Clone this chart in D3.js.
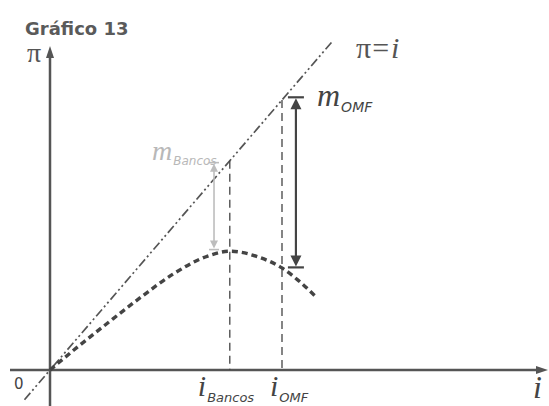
<!DOCTYPE html>
<html>
<head>
<meta charset="utf-8">
<script src="https://cdn.jsdelivr.net/npm/d3@7"></script>
<style>
  body { margin: 0; background: #fff; }
  svg { display: block; }
</style>
</head>
<body>
<div id="chart"></div>
<script>
// rates on the horizontal axis (i) and the profit line pi = i
var rateNames = ["Bancos", "OMF"];
var rateValues = [7.75, 10];
var diagonalRange = [-1.1, 12.2];
// profit curve
var curveI  = [0, 1, 2.5, 4, 5.3, 6.8, 7.75, 9, 10, 10.7, 11.5];
var curvePi = [0, 0.72, 1.75, 2.75, 3.55, 4.22, 4.4, 4.18, 3.78, 3.32, 2.68];
// margin arrows: [i, from pi, to pi]
var marginBancos = [7.07, 7.68, 4.46];
var marginOMF = [10.6, 10.1, 3.8];

var width = 549, height = 406;

var x = d3.scaleLinear().domain([0, 10]).range([50, 282]);
var y = d3.scaleLinear().domain([0, 10]).range([370, 100]);

var svg = d3.select("#chart").append("svg")
    .attr("width", width)
    .attr("height", height);

var axisColor = "#555";

// title
svg.append("text")
    .attr("x", 25).attr("y", 35)
    .style("font-family", "DejaVu Sans, sans-serif")
    .style("font-weight", "bold")
    .style("font-size", "18px")
    .style("fill", "#5a5a5a")
    .text("Gráfico 13");

// axes
svg.append("line")
    .attr("x1", x(0)).attr("y1", height)
    .attr("x2", x(0)).attr("y2", 56)
    .attr("stroke", axisColor).attr("stroke-width", 2.5);
svg.append("path")
    .attr("d", "M" + x(0) + ",46 l-4,12 l8,0 z")
    .attr("fill", axisColor);

svg.append("line")
    .attr("x1", 10).attr("y1", y(0))
    .attr("x2", 538).attr("y2", y(0))
    .attr("stroke", axisColor).attr("stroke-width", 2.5);
svg.append("path")
    .attr("d", "M548," + y(0) + " l-12,-4 l0,8 z")
    .attr("fill", axisColor);

// pi = i line
svg.append("line")
    .attr("x1", x(diagonalRange[0])).attr("y1", y(diagonalRange[0]))
    .attr("x2", x(diagonalRange[1])).attr("y2", y(diagonalRange[1]))
    .attr("stroke", "#555").attr("stroke-width", 1.7)
    .attr("stroke-dasharray", "9,3,2,3,2,3");

// vertical dashed lines
svg.selectAll(".vline")
    .data(rateValues)
    .enter().append("line")
    .attr("class", "vline")
    .attr("x1", function(d) { return x(d); })
    .attr("x2", function(d) { return x(d); })
    .attr("y1", function(d) { return y(d); })
    .attr("y2", y(0))
    .attr("stroke", "#444").attr("stroke-width", 1.3)
    .attr("stroke-dasharray", "8,5");

// profit curve
var curve = curveI.map(function(d, i) { return [d, curvePi[i]]; });
var line = d3.line()
    .x(function(d) { return x(d[0]); })
    .y(function(d) { return y(d[1]); })
    .curve(d3.curveMonotoneX);
svg.append("path")
    .datum(curve)
    .attr("d", line)
    .attr("fill", "none")
    .attr("stroke", "#444").attr("stroke-width", 3.4)
    .attr("stroke-dasharray", "6,4");

// margin arrows with bar caps
function marginArrow(m, color, sw, head, cap) {
  var cx = x(m[0]), top = y(m[1]), bot = y(m[2]);
  var g = svg.append("g");
  g.append("line")
      .attr("x1", cx).attr("x2", cx)
      .attr("y1", top + head).attr("y2", bot - head)
      .attr("stroke", color).attr("stroke-width", sw);
  g.append("line")
      .attr("x1", cx - cap).attr("x2", cx + cap)
      .attr("y1", top).attr("y2", top)
      .attr("stroke", color).attr("stroke-width", sw);
  g.append("line")
      .attr("x1", cx - cap).attr("x2", cx + cap)
      .attr("y1", bot).attr("y2", bot)
      .attr("stroke", color).attr("stroke-width", sw);
  g.append("path")
      .attr("d", "M" + cx + "," + (top + 1) + " l" + (-head / 2) + "," + head + " l" + head + ",0 z")
      .attr("fill", color);
  g.append("path")
      .attr("d", "M" + cx + "," + (bot - 1) + " l" + (-head / 2) + "," + (-head) + " l" + head + ",0 z")
      .attr("fill", color);
}
marginArrow(marginBancos, "#bdbdbd", 1.6, 8, 5);
marginArrow(marginOMF, "#444", 2.2, 11, 8);

// labels
function mathLabel(px, py, main, sub, color, mainSize, subSize) {
  var t = svg.append("text")
      .attr("x", px).attr("y", py)
      .style("fill", color);
  t.append("tspan")
      .style("font-family", "Liberation Serif, serif")
      .style("font-style", "italic")
      .style("font-size", mainSize + "px")
      .text(main);
  if (sub) {
    t.append("tspan")
        .attr("dy", subSize * 0.45)
        .attr("dx", 1)
        .style("font-family", "DejaVu Sans, sans-serif")
        .style("font-style", "italic")
        .style("font-size", subSize + "px")
        .text(sub);
  }
  return t;
}

// pi on the y axis
svg.append("text")
    .attr("x", 27).attr("y", 62)
    .style("font-family", "Liberation Serif, serif")
    .style("font-size", "28px")
    .style("fill", "#555")
    .text("π");

// pi = i
var eq = svg.append("text")
    .attr("x", 356).attr("y", 58)
    .style("fill", "#555")
    .style("font-family", "Liberation Serif, serif")
    .style("font-size", "30px");
eq.append("tspan").text("π");
eq.append("tspan").text("=").attr("dx", 1);
eq.append("tspan").text("i").style("font-style", "italic").attr("dx", 2);

mathLabel(152, 160, "m", "Bancos", "#b8b8b8", 28, 12);
mathLabel(317, 106, "m", "OMF", "#444", 32, 14);

// axis labels
svg.selectAll(".ilabel")
    .data(rateValues)
    .enter().append("g")
    .attr("class", "ilabel")
    .each(function(d, i) {
      mathLabel(x(d) - 32 + (i ? 20 : 0), 396, "i", rateNames[i], "#444", 30, 13);
    });

svg.append("text")
    .attr("x", 533).attr("y", 398)
    .style("font-family", "Liberation Serif, serif")
    .style("font-style", "italic")
    .style("font-size", "32px")
    .style("fill", "#444")
    .text("i");

svg.append("text")
    .attr("x", 14).attr("y", 389)
    .style("font-family", "DejaVu Sans, sans-serif")
    .style("font-size", "15px")
    .style("fill", "#444")
    .text("0");
</script>
</body>
</html>
